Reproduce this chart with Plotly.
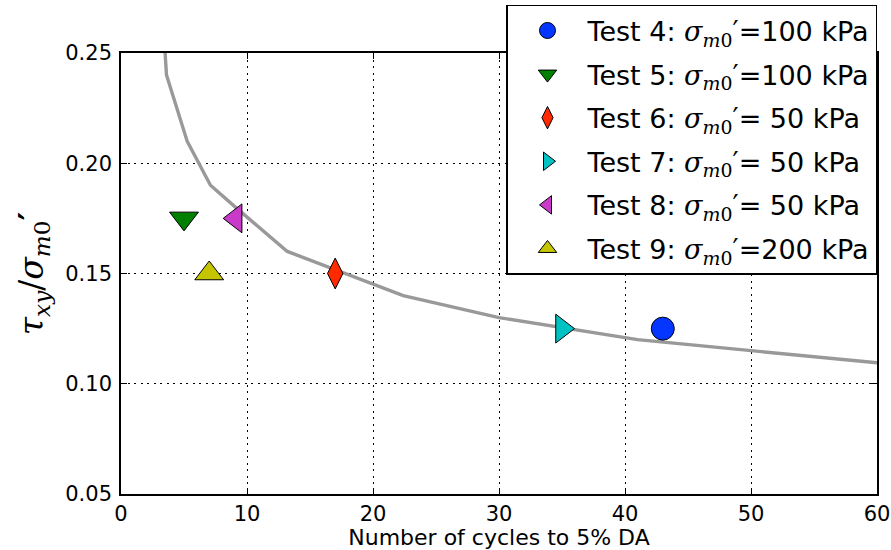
import plotly.graph_objects as go

# ---- data ----
test_names = ["Test 4", "Test 5", "Test 6", "Test 7", "Test 8", "Test 9"]
confining = ["=100 kPa", "=100 kPa", "= 50 kPa", "= 50 kPa", "= 50 kPa", "=200 kPa"]
cycles = [43, 5, 17, 35, 9.1, 7]
stress_ratio = [0.125, 0.175, 0.150, 0.125, 0.175, 0.150]
symbols = ["circle", "triangle-down", "diamond-tall", "triangle-right", "triangle-left", "triangle-up"]
colors = ["#0536ff", "#008000", "#ff2a00", "#00c2c2", "#c93ac9", "#c4c400"]
marker_sizes = [23, 25, 22, 25, 25, 25]

curve_N = [3.5, 3.61, 5.25, 7.1, 9.1, 13.2, 22.4, 30.0, 41.0, 60.0]
curve_y = [0.25, 0.24, 0.21, 0.19, 0.18, 0.16, 0.14, 0.13, 0.12, 0.1095]

x_ticks = [0, 10, 20, 30, 40, 50, 60]
y_ticks = [0.05, 0.10, 0.15, 0.20, 0.25]

SIG = '<span style="font-family:DejaVu Serif"><i>σ</i><sub><i>m</i>0</sub>′</span>'

fig = go.Figure()
fig.add_trace(go.Scatter(x=curve_N, y=curve_y, mode="lines",
                         line=dict(color="#999999", width=3.4),
                         showlegend=False, hoverinfo="skip"))
for i in range(len(test_names)):
    fig.add_trace(go.Scatter(
        x=[cycles[i]], y=[stress_ratio[i]], mode="markers",
        name=f"{test_names[i]}: {SIG}{confining[i]}",
        legendgroup=f"g{i}",
        marker=dict(symbol=symbols[i], color=colors[i], size=marker_sizes[i],
                    line=dict(color="black", width=1)),
        cliponaxis=False,
    ))

axis_common = dict(
    showline=True, linecolor="black", linewidth=1.6, mirror="ticks",
    ticks="inside", ticklen=6, tickwidth=1.2, tickcolor="black",
    showgrid=True, gridcolor="black", gridwidth=1, griddash="2px,4.5px",
    zeroline=False,
    tickfont=dict(family="DejaVu Sans", size=21, color="black"),
)

fig.update_xaxes(range=[0, 60], tickvals=x_ticks, ticktext=[str(v) for v in x_ticks],
                 title=dict(text="Number of cycles to 5% DA",
                            font=dict(family="DejaVu Sans", size=22, color="black"),
                            standoff=6),
                 **axis_common)
fig.update_yaxes(range=[0.05, 0.25], tickvals=y_ticks, ticktext=[f"{v:.2f}" for v in y_ticks],
                 ticklabelstandoff=3,
                 title=dict(text="<i>τ</i><sub><i>xy</i></sub>/<i>σ</i><sub><i>m</i>0</sub><b>′</b>",
                            font=dict(family="DejaVu Serif", size=33, color="black"),
                            standoff=12),
                 **axis_common)

fig.update_layout(
    width=891, height=550,
    margin=dict(l=120.5, r=14, t=53, b=56, autoexpand=False),
    paper_bgcolor="white", plot_bgcolor="white",
    legend=dict(x=1.0, xanchor="right", y=1.109, yanchor="top",
                bgcolor="white", bordercolor="black", borderwidth=1.5,
                font=dict(family="DejaVu Sans", size=27, color="black"),
                tracegroupgap=5.5, itemwidth=70),
)

fig.write_html("out.html")
